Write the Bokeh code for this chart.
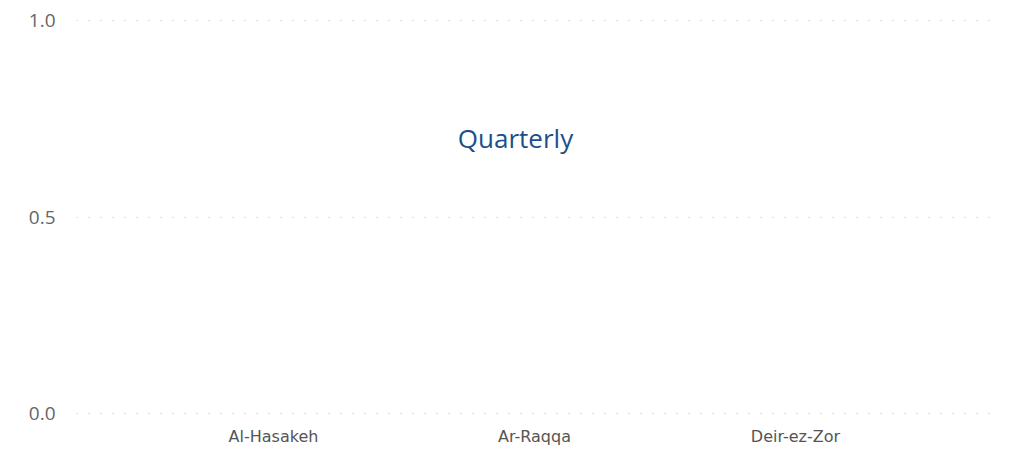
from bokeh.plotting import figure
from bokeh.models import FactorRange, Range1d, FixedTicker, PrintfTickFormatter, Label, ColumnDataSource
from bokeh.embed import file_html
from bokeh.resources import INLINE

categories = ["Al-Hasakeh", "Ar-Raqqa", "Deir-ez-Zor"]
values = [0, 0, 0]
y_ticks = [0.0, 0.5, 1.0]
message = "Quarterly"

src = ColumnDataSource(dict(cat=categories, val=values))

p = figure(
    width=1000, height=448,
    x_range=FactorRange(factors=categories, range_padding=0.255, range_padding_units="absolute"),
    y_range=Range1d(-0.01, 1.01),
    output_backend="svg", toolbar_location=None,
    min_border_left=76, min_border_right=8, min_border_top=16,
)
p.outline_line_color = None
p.background_fill_color = "white"
p.border_fill_color = "white"

p.vbar(x="cat", top="val", width=0.6, source=src, fill_color="#1f4e8c", line_color=None)

# y axis
p.yaxis.ticker = FixedTicker(ticks=y_ticks)
p.yaxis.formatter = PrintfTickFormatter(format="%.1f")
p.yaxis.axis_line_color = None
p.yaxis.major_tick_line_color = None
p.yaxis.minor_tick_line_color = None
p.yaxis.major_tick_out = 0
p.yaxis.major_tick_in = 0
p.yaxis.major_label_standoff = 21
p.yaxis.major_label_text_font = "Open Sans"
p.yaxis.major_label_text_font_size = "19px"
p.yaxis.major_label_text_color = "#666666"

# x axis
p.xaxis.axis_line_color = None
p.xaxis.major_tick_line_color = None
p.xaxis.minor_tick_line_color = None
p.xaxis.major_tick_out = 0
p.xaxis.major_tick_in = 0
p.xaxis.major_label_standoff = 9
p.xaxis.major_label_text_font = "DejaVu Sans"
p.xaxis.major_label_text_font_size = "16px"
p.xaxis.major_label_text_color = "#555555"

# grids
p.xgrid.grid_line_color = None
p.ygrid.grid_line_color = "#bbbbbb"
p.ygrid.grid_line_dash = "1 11"
p.ygrid.grid_line_width = 1

lbl = Label(x=1.5, y=0.7, x_offset=-19, text=message, text_align="center", text_baseline="middle",
            text_font="Open Sans", text_font_size="26px", text_color="#1b4f8c")
p.add_layout(lbl)

open("out.html", "w").write(file_html(p, INLINE))
